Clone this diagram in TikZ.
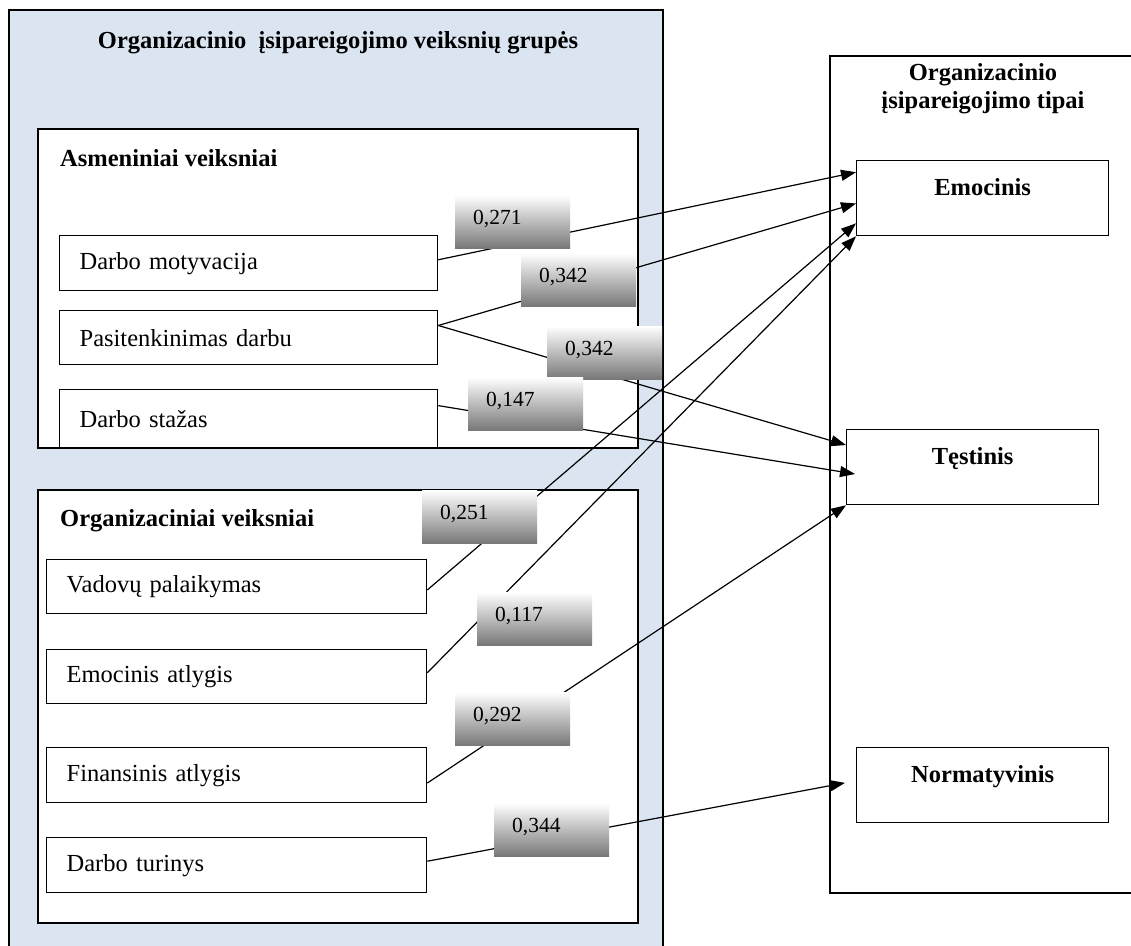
\documentclass[tikz,border=0pt]{standalone}
\usepackage{fontspec}
\setmainfont{Liberation Serif}
\usetikzlibrary{arrows.meta,calc}
\definecolor{panel}{HTML}{DBE5F1}

\begin{document}
\begin{tikzpicture}[x=1pt,y=-1pt,
  txt/.style={font=\fontsize{24.5}{28}\selectfont},
  hdr/.style={font=\fontsize{24.5}{28}\selectfont\bfseries},
  num/.style={font=\fontsize{21.5}{26}\selectfont},
  frame/.style={draw, line width=1.5pt, anchor=north west, inner sep=0pt},
  factor/.style={draw, line width=1.3pt, fill=white, anchor=north west,
    inner xsep=20pt, inner ysep=0pt, align=left, txt},
  kind/.style={draw, line width=1.3pt, fill=white, anchor=north west,
    inner sep=0pt, text width=252pt, align=center,
    text height=35pt, text depth=40pt, hdr},
  coef/.style={anchor=north west, inner xsep=18pt, inner ysep=0pt,
    text width=79pt, text height=29pt, text depth=24pt, align=left,
    top color=white, bottom color=black!53, num},
  link/.style={line width=1.2pt, -{Triangle[length=15pt,width=11pt]}},
]
\useasboundingbox (0,0) rectangle (1131,945);

% left panel: groups of factors
\node[frame, fill=panel, minimum width=654pt, minimum height=980pt] (groups) at (8,9) {};
\node[hdr, anchor=base] (groupstitle) at (338,48) {Organizacinio\ \ įsipareigojimo veiksnių grupės};

% right panel: types of commitment
\node[frame, minimum width=330pt, minimum height=837pt] (types) at (829,55) {};
\node[hdr, align=center] (typestitle) at (983,89) {Organizacinio\\įsipareigojimo tipai};

% personal factors
\node[frame, fill=white, minimum width=600pt, minimum height=319pt] (personal) at (37,128) {};
\node[hdr, anchor=base west, inner sep=0pt] (personaltitle) at (60,166) {Asmeniniai veiksniai};
\node[factor, text width=338pt, minimum height=55pt] (dm) at (59,235) {Darbo motyvacija};
\node[factor, text width=338pt, minimum height=54pt] (pd) at (59,310) {Pasitenkinimas darbu};
\node[factor, text width=338pt, minimum height=58pt] (ds) at (59,389) {Darbo stažas};

% organisational factors
\node[frame, fill=white, minimum width=600pt, minimum height=433pt] (org) at (37,489) {};
\node[hdr, anchor=base west, inner sep=0pt] (orgtitle) at (60,526) {Organizaciniai veiksniai};
\node[factor, text width=340pt, minimum height=54pt] (vp) at (46,559) {Vadovų palaikymas};
\node[factor, text width=340pt, minimum height=54pt] (ea) at (46,649) {Emocinis atlygis};
\node[factor, text width=340pt, minimum height=55pt] (fa) at (46,747) {Finansinis atlygis};
\node[factor, text width=340pt, minimum height=55pt] (dt) at (46,837) {Darbo turinys};

% commitment types
\node[kind] (emo) at (856,160) {Emocinis};
\node[kind] (tes) at (846,429) {Tęstinis};
\node[kind] (nor) at (856,747) {Normatyvinis};

% links between factors and types
\draw[link] ($(dm.north east)!0.44!(dm.south east)$) -- ($(emo.north west)!0.16!(emo.south west)$);
\draw[link] ($(pd.north east)!0.28!(pd.south east)$) -- ($(emo.north west)!0.57!(emo.south west)$);
\draw[link] ($(pd.north east)!0.28!(pd.south east)$) -- ($(tes.north west)!0.21!(tes.south west)$);
\draw[link] ($(ds.north east)!0.28!(ds.south east)$) -- ([xshift=9pt]$(tes.north west)!0.59!(tes.south west)$);
\draw[link] ($(vp.north east)!0.56!(vp.south east)$) -- ($(emo.north west)!0.83!(emo.south west)$);
\draw[link] ($(ea.north east)!0.43!(ea.south east)$) -- (emo.south west);
\draw[link] ($(fa.north east)!0.64!(fa.south east)$) -- (tes.south west);
\draw[link] ($(dt.north east)!0.43!(dt.south east)$) -- ([xshift=-11pt]$(nor.north west)!0.47!(nor.south west)$);

% coefficients
\node[coef] (c1) at (455,195) {0,271};
\node[coef] (c2) at (521,253) {0,342};
\node[coef] (c3) at (547,326) {0,342};
\node[coef] (c4) at (468,377) {0,147};
\node[coef] (c5) at (422,490) {0,251};
\node[coef] (c6) at (477,592) {0,117};
\node[coef] (c7) at (455,692) {0,292};
\node[coef] (c8) at (494,803) {0,344};
\end{tikzpicture}
\end{document}
